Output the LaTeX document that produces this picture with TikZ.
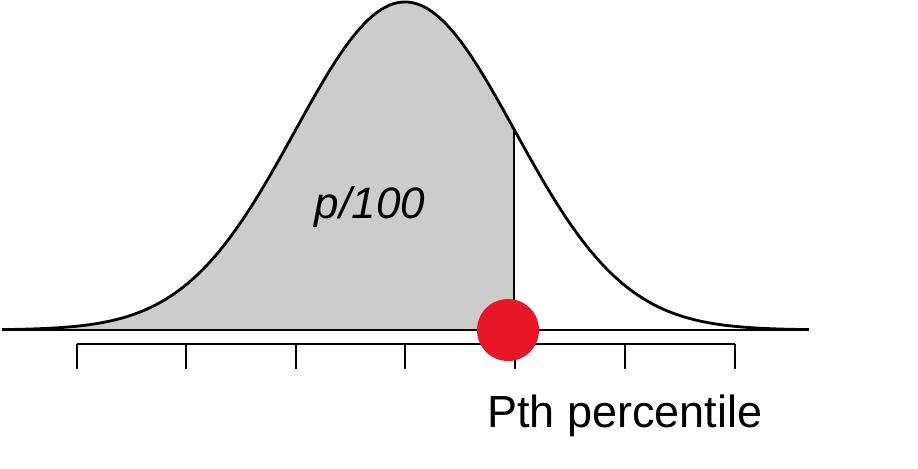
\documentclass[tikz,border=0pt]{standalone}
\usepackage{fontspec}
\setmainfont{Liberation Sans}
\usepackage{tikz}
\usetikzlibrary{positioning}
\definecolor{dotred}{HTML}{E81526}
\definecolor{areagray}{HTML}{CCCCCC}

\begin{document}
\begin{tikzpicture}
                [
                    x=0.5pt, y=-0.5pt,
                    curveline/.style={line width=1.4pt, line join=round},
                    baseline/.style={line width=1.3pt},
                    axisline/.style={line width=1.1pt},
                    cutline/.style={line width=0.7pt},
                    reddot/.style={circle, fill=dotred, inner sep=0pt, minimum size=31pt},
                    arealabel/.style={font=\fontsize{22}{26}\selectfont\itshape, anchor=base},
                    ticklabel/.style={font=\fontsize{22.5}{27}\selectfont, anchor=base},
                ]
                \useasboundingbox (0,0) rectangle (918,468);

                % shaded area up to the percentile
                \fill[areagray] (2,330) -- plot[domain=2:514, samples=150, smooth] (\x,{330-328*exp(-0.5*((\x-405)/110)^2)}) -- (514,330) -- cycle;
                \coordinate (cutbase) at (514,330);
                \coordinate (cuttop) at (514,{330-328*exp(-0.5*((514-405)/110)^2)});
                \draw[cutline] (cutbase) -- (cuttop);

                \draw[curveline] plot[domain=2:809, samples=200, smooth] (\x,{330-328*exp(-0.5*((\x-405)/110)^2)});
                \draw[baseline] (2,330) -- (809,330);

                % axis with ticks
                \draw[axisline] (77,344) -- (735,344);
                \foreach \t in {77,186,296,405,515,625,735}
                    \draw[axisline] (\t,344) -- (\t,369);

                \node [reddot] (pth) at (508,330) {};
                \node [arealabel] (area) at (370,218) {p/100};
                \node [ticklabel] (pthtext) at (625,427) {Pth percentile};
\end{tikzpicture}
\end{document}
